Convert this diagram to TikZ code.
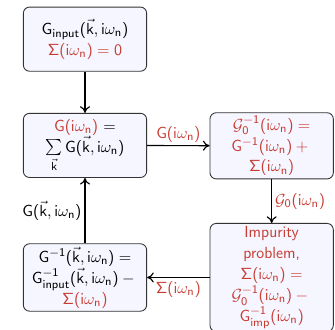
\documentclass[tikz,border=0pt]{standalone}
\usepackage{amsmath}
\usepackage{xcolor}
\usepackage{tikz}
\usetikzlibrary{arrows.meta,positioning}

\renewcommand{\familydefault}{\sfdefault}
% upright sans letters and digits in math
\DeclareSymbolFont{sfletters}{OT1}{cmss}{m}{n}
\DeclareSymbolFont{operators}{OT1}{cmss}{m}{n}
\DeclareMathSymbol{G}{\mathalpha}{sfletters}{`G}
\DeclareMathSymbol{i}{\mathalpha}{sfletters}{`i}
\DeclareMathSymbol{k}{\mathalpha}{sfletters}{`k}
\DeclareMathSymbol{n}{\mathalpha}{sfletters}{`n}

\definecolor{alertred}{RGB}{200,60,50}
\definecolor{boxfill}{RGB}{245,246,255}
\newcommand{\alrt}[1]{\textcolor{alertred}{#1}}

\begin{document}
\begin{tikzpicture}[
    font=\fontsize{11}{14.3}\selectfont,
    stage/.style={draw=black!80, rounded corners=1.5mm, semithick, fill=boxfill,
                  align=center, minimum width=2.96cm, minimum height=1.54cm,
                  inner sep=2pt},
    alstage/.style={stage, text=alertred},
    flow/.style={-{To[length=1.6mm,width=2.4mm]}, thick},
    lab/.style={text=alertred, inner sep=2pt}
]
\useasboundingbox (0,0) rectangle (8.04,-7.92);

% ---------- boxes ----------
\node[stage] (input) at (2.04,-0.94)
   {$G_{\mathsf{input}}(\vec{k}, i\omega_n)$\\ \alrt{$\Sigma(i\omega_n) = 0$}};
\node[stage] (local) at (2.04,-3.49)
   {\alrt{$G(i\omega_n)$} $=$\\ $\sum\limits_{\vec{k}} G(\vec{k}, i\omega_n)$};
\node[alstage] (weiss) at (6.52,-3.50)
   {$\mathcal{G}_0^{-1}(i\omega_n) =$\\ $G^{-1}(i\omega_n) +{}$\\ $\Sigma(i\omega_n)$};
\node[alstage] (imp) at (6.52,-6.66)
   {Impurity\\ problem,\\ $\Sigma(i\omega_n) =$\\ $\mathcal{G}_0^{-1}(i\omega_n) -{}$\\ $G_{\mathsf{imp}}^{-1}(i\omega_n)$};
\node[stage] (dyson) at (2.04,-6.66)
   {$G^{-1}(\vec{k}, i\omega_n) =$\\ $G^{-1}_{\mathsf{input}}(\vec{k}, i\omega_n) -{}$\\ \alrt{$\Sigma(i\omega_n)$}};

% ---------- loop ----------
\draw[flow] (input) -- (local);
\draw[flow] (local) -- node[lab, above] {$G(i\omega_n)$} (weiss);
\draw[flow] (weiss) -- node[lab, right] {$\mathcal{G}_0(i\omega_n)$} (imp);
\draw[flow] (imp) -- node[lab, below] {$\Sigma(i\omega_n)$} (dyson);
\draw[flow] (dyson) -- node[left, inner sep=2pt] {$G(\vec{k}, i\omega_n)$} (local);

\end{tikzpicture}
\end{document}
